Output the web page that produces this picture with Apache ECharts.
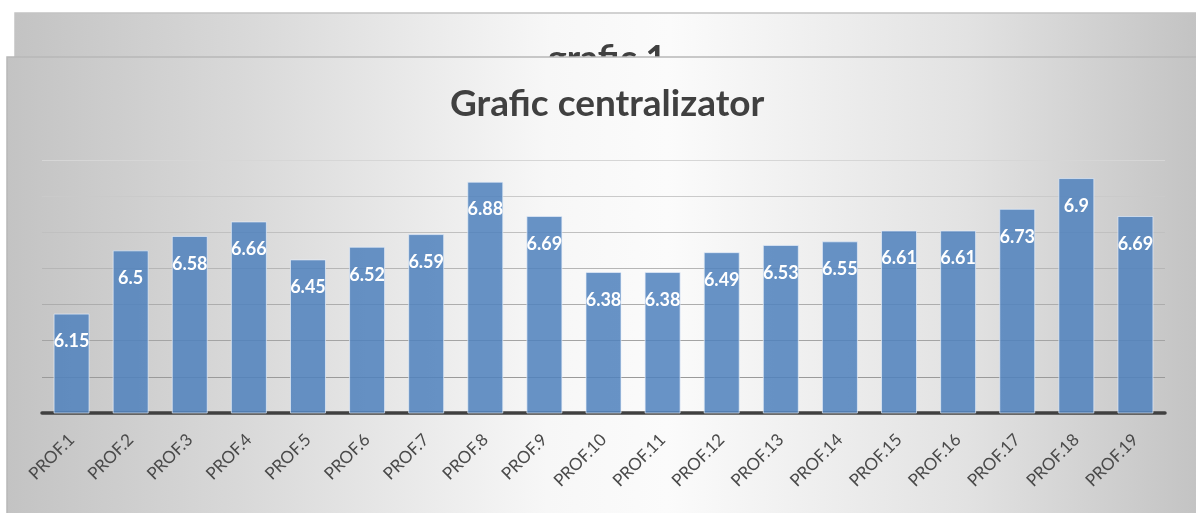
<!DOCTYPE html>
<html>
<head>
<meta charset="utf-8">
<script src="https://cdn.jsdelivr.net/npm/echarts@6/dist/echarts.min.js"></script>
<style>
  html, body { margin: 0; padding: 0; background: #fff; }
  #chart { width: 1196px; height: 513px; }
</style>
</head>
<body>
<div id="chart"></div>
<script>
const categories = ['PROF.1', 'PROF.2', 'PROF.3', 'PROF.4', 'PROF.5', 'PROF.6', 'PROF.7', 'PROF.8', 'PROF.9', 'PROF.10',
  'PROF.11', 'PROF.12', 'PROF.13', 'PROF.14', 'PROF.15', 'PROF.16', 'PROF.17', 'PROF.18', 'PROF.19']
const values = [6.15, 6.5, 6.58, 6.66, 6.45, 6.52, 6.59, 6.88, 6.69, 6.38,
  6.38, 6.49, 6.53, 6.55, 6.61, 6.61, 6.73, 6.9, 6.69]
const yMin = 5.6
const yMax = 7.0
const yStep = 0.2

const panelFill = {
  type: 'linear', x: 0, y: 0, x2: 1, y2: 0,
  colorStops: [
    { offset: 0, color: '#c3c3c3' },
    { offset: 0.2, color: '#d9d9d9' },
    { offset: 0.45, color: '#f7f7f7' },
    { offset: 0.55, color: '#fbfbfb' },
    { offset: 0.8, color: '#e2e2e2' },
    { offset: 1, color: '#c2c2c2' }
  ]
}

// gridlines get lighter towards the top, like the original
const gridColors = ['#8a8a8a', '#9a9a9a', '#a4a4a4', '#adadad', '#b6b6b6', '#c0c0c0', '#cacaca', '#d6d6d6']

const chart = echarts.init(document.getElementById('chart'))
chart.setOption({
  animation: false,
  graphic: [
    {
      type: 'rect', z: -10,
      shape: { x: 15, y: 13, width: 1190, height: 60 },
      style: { fill: panelFill, stroke: '#c4c4c4', lineWidth: 1.5 }
    },
    {
      type: 'text', z: -9,
      x: 607, y: 59,
      style: {
        text: 'grafic 1', fill: '#404040', font: 'bold 36px Lato',
        align: 'center', verticalAlign: 'middle'
      }
    },
    {
      type: 'rect', z: -8,
      shape: { x: 7, y: 57, width: 1200, height: 470 },
      style: { fill: panelFill, stroke: '#b8b8b8', lineWidth: 1.5 }
    }
  ],
  title: {
    text: 'Grafic centralizator',
    left: 450,
    top: 86,
    padding: 0,
    textStyle: { fontFamily: 'Lato', fontSize: 37, fontWeight: 'bold', color: '#404040' }
  },
  grid: { left: 42, right: 31, top: 160, bottom: 100 },
  xAxis: {
    type: 'category',
    data: categories,
    axisTick: { show: false },
    axisLine: { lineStyle: { color: '#404040', width: 3.5 } },
    axisLabel: {
      interval: 0, rotate: 45, margin: 24,
      fontFamily: 'Lato', fontSize: 17, color: '#4a4a4a'
    }
  },
  yAxis: {
    type: 'value',
    min: yMin, max: yMax, interval: yStep,
    axisLabel: { show: false },
    axisLine: { show: false },
    axisTick: { show: false },
    splitLine: { lineStyle: { color: gridColors, width: 1.2 } }
  },
  series: [{
    type: 'bar',
    data: values,
    barWidth: 36,
    itemStyle: { color: 'rgba(79,129,189,0.86)', borderColor: 'rgba(230,238,250,0.7)', borderWidth: 1 },
    label: {
      show: true, position: 'insideTop', distance: 19,
      color: '#fff', fontFamily: 'Lato', fontWeight: 'bold', fontSize: 18
    }
  }]
})
</script>
</body>
</html>
